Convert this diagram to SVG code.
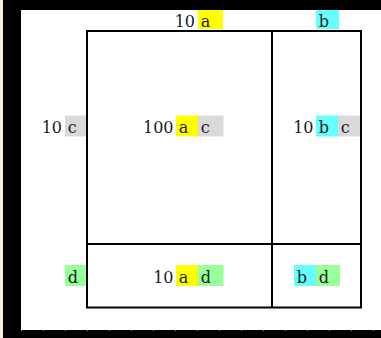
<svg xmlns="http://www.w3.org/2000/svg" width="381" height="338" viewBox="0 0 381 338">
<style>
text{font-family:"DejaVu Serif","Liberation Serif",serif;font-size:16px;fill:#1a1a1a}
.n{text-anchor:end}
.ya{fill:#ffff00}
.cy{fill:#66ffff}
.gr{fill:#d9d9d9}
.gn{fill:#99ff99}
.ln{stroke:#000;stroke-width:2;fill:none}
</style>
<rect x="0" y="0" width="381" height="338" fill="#ffffff"/>
<rect x="0" y="0" width="3" height="338" fill="#fdf1d8"/>
<rect x="3" y="0" width="378" height="10" fill="#000"/>
<rect x="3" y="0" width="18" height="338" fill="#000"/>
<rect x="3" y="330" width="378" height="8" fill="#000"/>
<line x1="21" y1="330.5" x2="381" y2="330.5" stroke="#8a8a8a" stroke-width="1" stroke-dasharray="1 21"/>
<g id="grid">
<rect class="ln" x="87" y="31" width="274" height="276.5"/>
<line class="ln" x1="272" y1="31" x2="272" y2="307.5"/>
<line class="ln" x1="87" y1="244" x2="361" y2="244"/>
</g>
<g id="top-a">
<rect class="ya" x="198" y="10" width="25" height="19"/>
<text class="n" x="195" y="27">10</text>
<text x="200.7" y="27">a</text>
</g>
<g id="top-b">
<rect class="cy" x="316" y="10" width="23" height="19"/>
<text x="318.7" y="27">b</text>
</g>
<g id="left-c">
<rect class="gr" x="65" y="115.5" width="21" height="21"/>
<text class="n" x="62" y="133.3">10</text>
<text x="67.7" y="133.3">c</text>
</g>
<g id="left-d">
<rect class="gn" x="65" y="265" width="21" height="21"/>
<text x="67.7" y="283.3">d</text>
</g>
<g id="cell-ac">
<rect class="ya" x="176" y="115.5" width="22" height="21"/>
<rect class="gr" x="198" y="115.5" width="25.5" height="21"/>
<text class="n" x="173.5" y="133.3">100</text>
<text x="178.7" y="133.3">a</text>
<text x="200.7" y="133.3">c</text>
</g>
<g id="cell-bc">
<rect class="cy" x="316" y="115.5" width="22" height="21"/>
<rect class="gr" x="338" y="115.5" width="22" height="21"/>
<text class="n" x="313.5" y="133.3">10</text>
<text x="318.7" y="133.3">b</text>
<text x="340.7" y="133.3">c</text>
</g>
<g id="cell-ad">
<rect class="ya" x="176" y="265" width="22" height="21"/>
<rect class="gn" x="198" y="265" width="25.5" height="21"/>
<text class="n" x="173.5" y="283.3">10</text>
<text x="178.7" y="283.3">a</text>
<text x="200.7" y="283.3">d</text>
</g>
<g id="cell-bd">
<rect class="cy" x="294" y="265" width="22" height="21"/>
<rect class="gn" x="316" y="265" width="24" height="21"/>
<text x="296.7" y="283.3">b</text>
<text x="318.7" y="283.3">d</text>
</g>
<g id="connectors"></g>
</svg>
